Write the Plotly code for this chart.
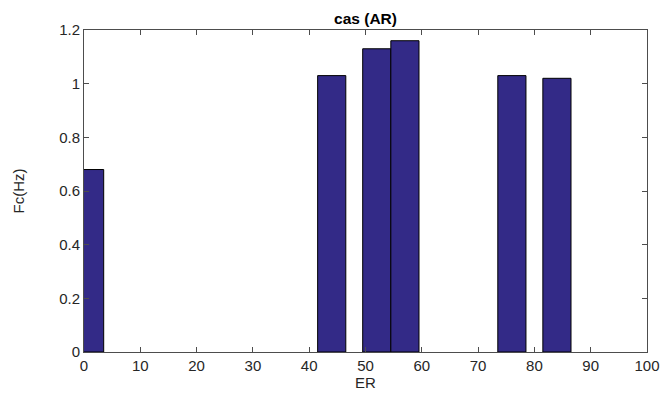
import plotly.graph_objects as go

er = [1, 44, 52, 57, 76, 84]
fc = [0.68, 1.03, 1.13, 1.16, 1.03, 1.02]
x_ticks = [0, 10, 20, 30, 40, 50, 60, 70, 80, 90, 100]
y_ticks = [0, 0.2, 0.4, 0.6, 0.8, 1, 1.2]
y_tick_text = ["0", "0.2", "0.4", "0.6", "0.8", "1", "1.2"]

fig = go.Figure(go.Bar(
    x=er, y=fc, width=5,
    marker=dict(color="rgb(51,42,135)", line=dict(color="black", width=1)),
))

# page body has an 8px default margin; compensate in figure margins
W, H = 669, 399
L, R, T, B = 76, 30, 22, 55
font = "Liberation Sans, Arial, sans-serif"
axis_common = dict(
    showgrid=False, zeroline=False, showline=True, linecolor="#4d4d4d", linewidth=1,
    mirror="ticks", ticks="inside", ticklen=5, tickcolor="#4d4d4d",
    tickfont=dict(family=font, size=15, color="#262626"),
)
fig.update_layout(
    width=W, height=H,
    margin=dict(l=L, r=R, t=T, b=B),
    paper_bgcolor="white", plot_bgcolor="white",
    showlegend=False,
    title=dict(text="<b>cas (AR)</b>", x=(L + (W - R)) / 2 / W, xanchor="center",
               y=1 - 10.5 / H, yanchor="middle",
               font=dict(family=font, size=15.5, color="black")),
    xaxis=dict(range=[0, 100], tickvals=x_ticks, title=dict(text="ER", standoff=2,
               font=dict(family=font, size=15, color="#262626")), **axis_common),
    yaxis=dict(range=[0, 1.2], tickvals=y_ticks, ticktext=y_tick_text,
               title=dict(text="Fc(Hz)", standoff=30,
                          font=dict(family=font, size=15, color="#262626")), **axis_common),
)
fig.write_html("out.html")
